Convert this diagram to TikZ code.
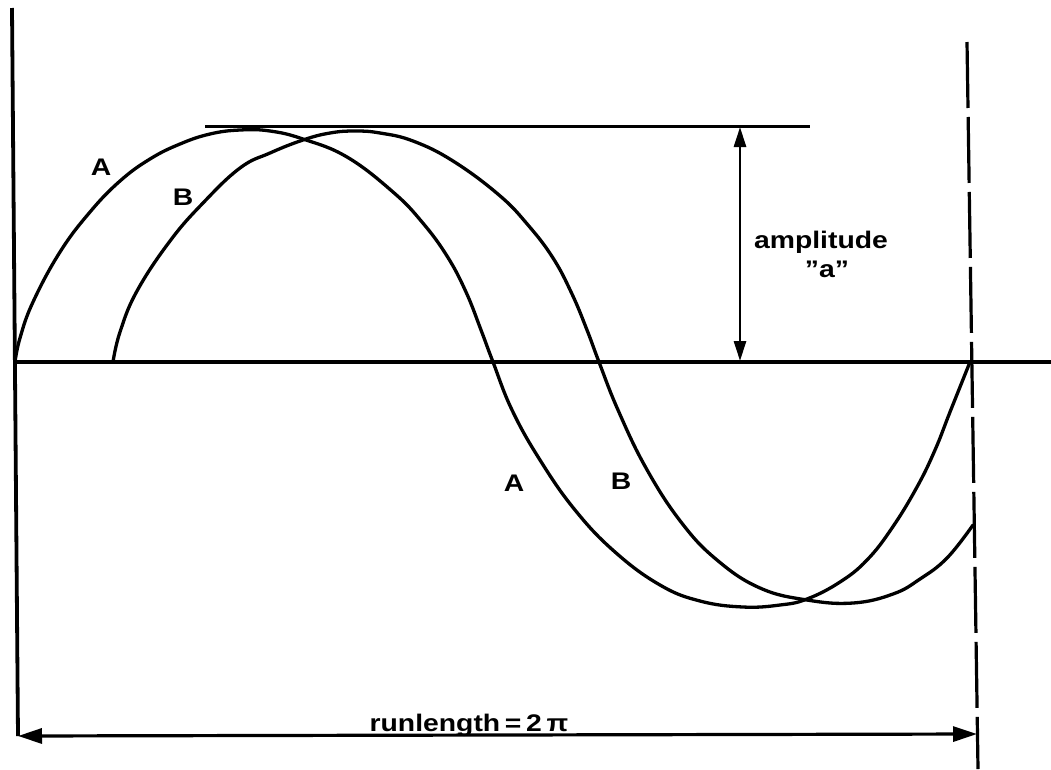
\documentclass[tikz,border=0pt]{standalone}
\usepackage{fontspec}
\setmainfont{Liberation Sans}
\usepackage{graphicx}
\usetikzlibrary{arrows.meta}
\newcommand\widetxt[1]{\scalebox{1.18}[1]{#1}}
\begin{document}
\begin{tikzpicture}[x=1pt,y=-1pt,
  axisline/.style={line width=3.8pt},
  wave/.style={line width=3.3pt, line join=round, line cap=round},
  dimline/.style={line width=2.8pt},
  lbl/.style={inner sep=0pt, anchor=base, font=\bfseries\fontsize{24}{28}\selectfont},
  tipboth/.style={{Triangle[length=20pt,width=12pt]}-{Triangle[length=20pt,width=12pt]}},
  tipwide/.style={{Triangle[length=24pt,width=15pt]}-{Triangle[length=24pt,width=15pt]}}]
\useasboundingbox (0,0) rectangle (1051,769);
% coordinates
\coordinate (ytop) at (12,8);
\coordinate (ybot) at (18,736);
\coordinate (o) at (15,362);
\coordinate (xend) at (1051,362);
\coordinate (dtop) at (967,42);
\coordinate (dbot) at (978,769);
\coordinate (peakL) at (205,126);
\coordinate (peakR) at (810,126);
\coordinate (ampT) at (740,127);
\coordinate (ampB) at (740,361);
\coordinate (runL) at (18,736);
\coordinate (runR) at (977,734);
% axes
\draw[axisline] (ytop) -- (ybot);
\draw[axisline] (o) -- (xend);
\draw[line width=3.2pt, dash pattern=on 66pt off 9pt] (dtop) -- (dbot);
% top reference line
\draw[line width=3pt] (peakL) -- (peakR);
% wave A
\draw[wave] plot[smooth, tension=0.7] coordinates {
  (15,362) (20,338) (33,302) (60,252) (90,212) (120,181) (150,159) (180,144)
  (210,134) (240,130) (270,131) (303,139) (347,157) (393,192) (422,222)
  (447,256) (466,292) (481,330) (493,362) (512,410) (540,460) (575,510)
  (615,552) (660,585) (700,601) (743,607) (780,605) (807,599) (840,582)
  (867,560) (892,528) (917,487) (935,450) (950,412) (970,362)};
% wave B
\draw[wave] plot[smooth, tension=0.7] coordinates {
  (113,362) (120,332) (137,291) (170,241) (203,203) (240,168) (270,153)
  (303,140) (330,133) (355,131) (380,133) (413,141) (453,161) (499,195)
  (528,225) (553,258) (572,294) (587,330) (599,362) (618,410) (646,468)
  (681,522) (717,560) (760,588) (807,600) (853,603) (893,594) (920,579)
  (947,558) (973,525)};
% dimension arrows
\draw[dimline, tipboth] (ampT) -- (ampB);
\draw[line width=3.2pt, tipwide] (runL) -- (runR);
% labels
\node[lbl] (la1) at (101,175) {\widetxt{A}};
\node[lbl] (lb1) at (183,205) {\widetxt{B}};
\node[lbl] (la2) at (514,491) {\widetxt{A}};
\node[lbl] (lb2) at (621,489) {\widetxt{B}};
\node[lbl] (amp) at (821,248) {\widetxt{amplitude}};
\node[lbl] (ampa) at (827,277) {\widetxt{”a”}};
\node[lbl] (run) at (469,731) {\widetxt{runlength\,=\,2\,π}};
\end{tikzpicture}
\end{document}
